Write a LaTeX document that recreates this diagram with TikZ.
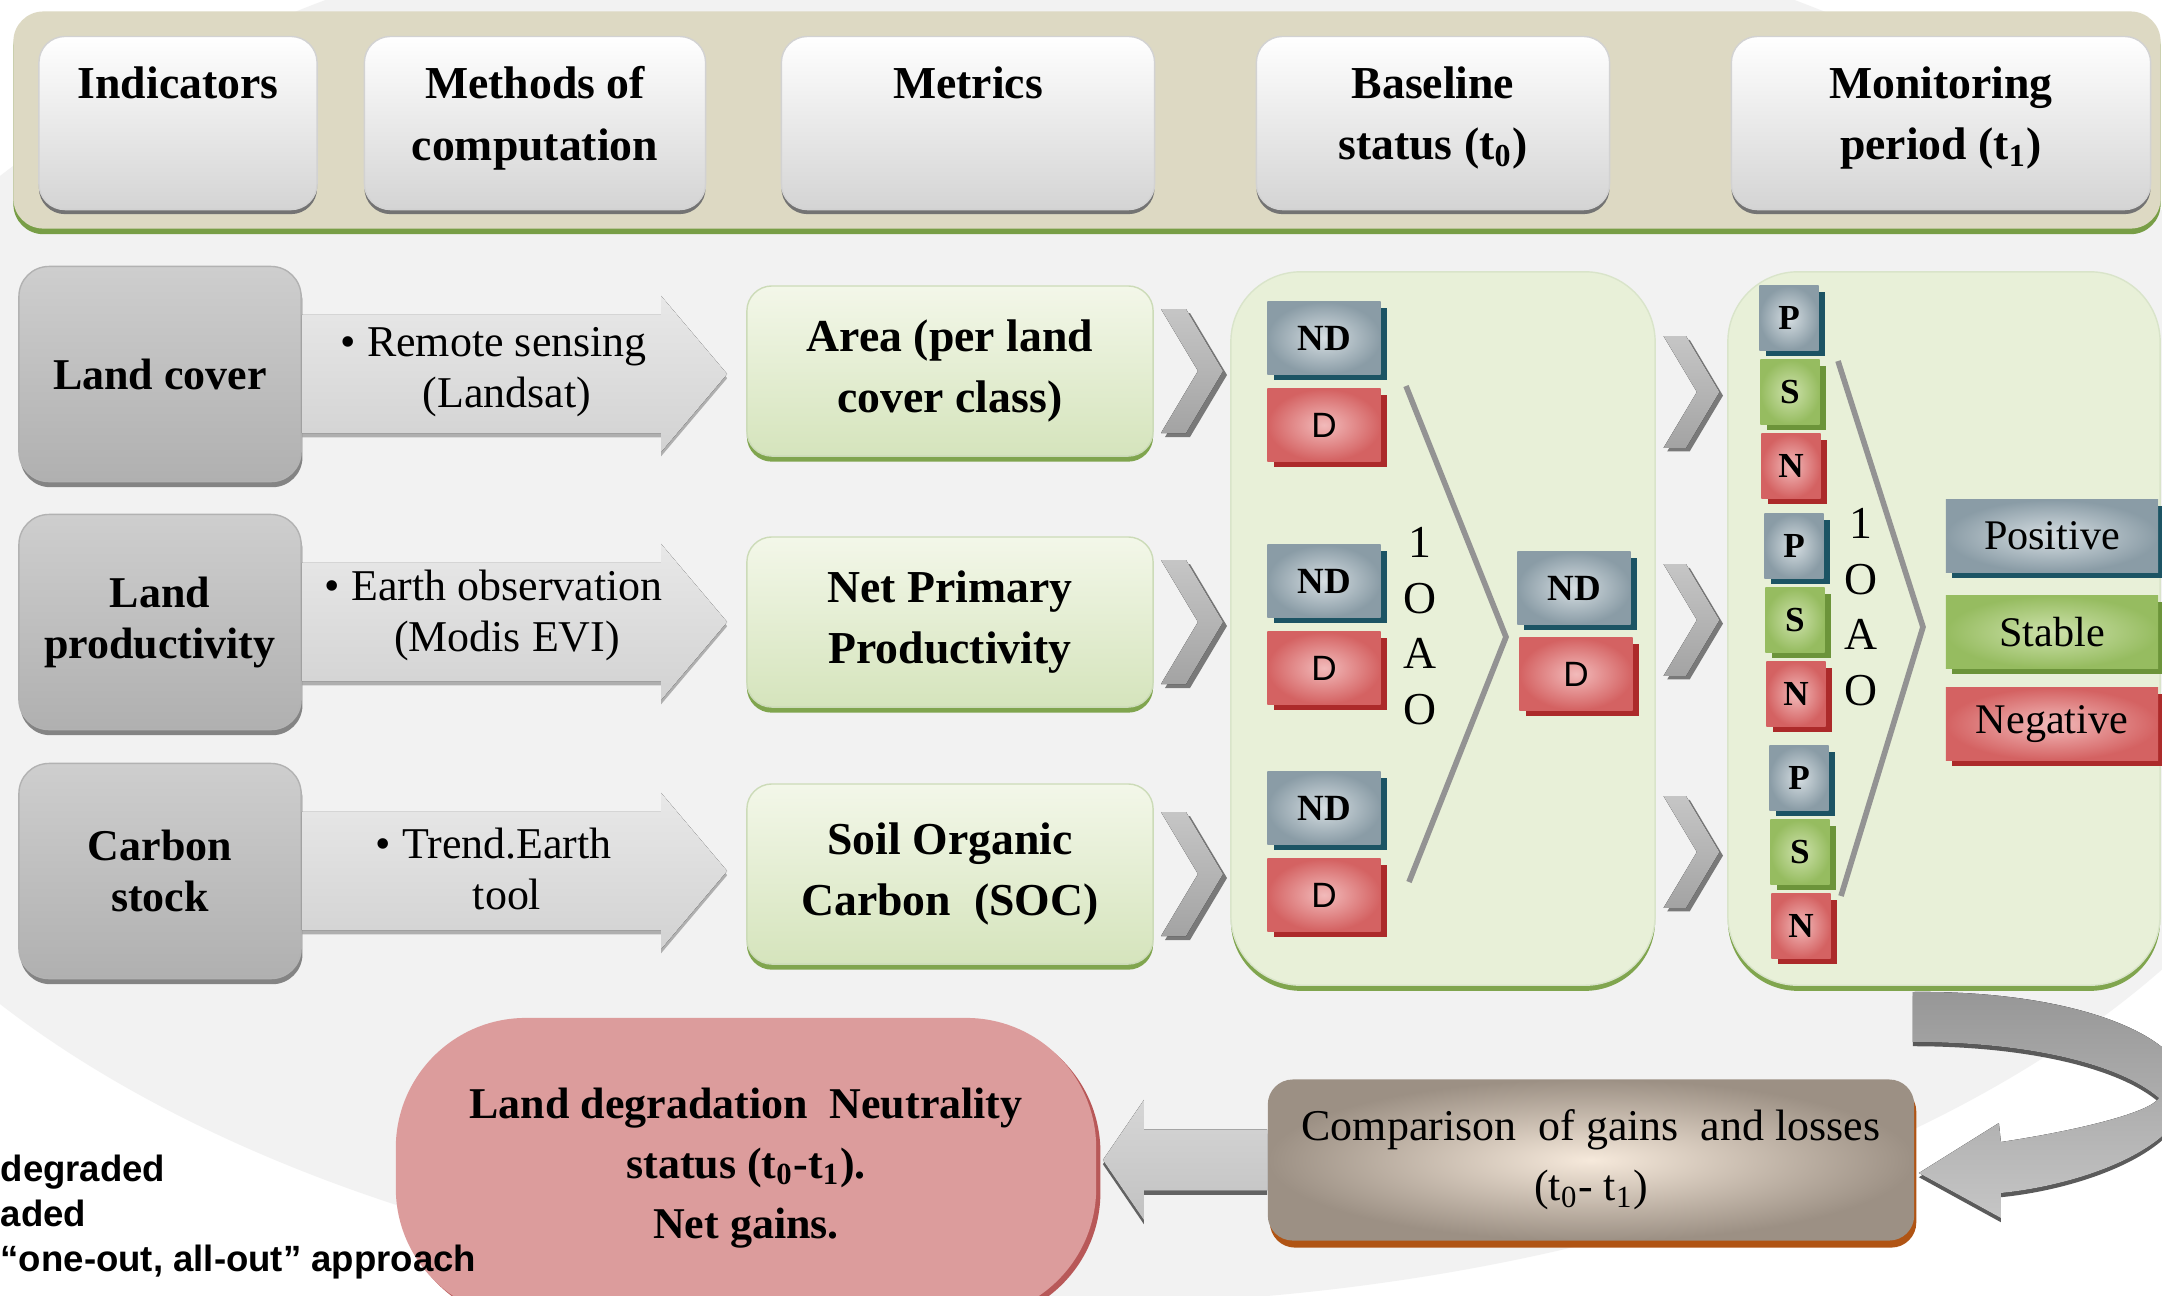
\documentclass[tikz,border=0pt]{standalone}
\usepackage{fontspec}
\setmainfont{Liberation Serif}
\newfontfamily\arialfont{Liberation Sans}
\usetikzlibrary{calc,shadows}

\definecolor{bggrey}{RGB}{242,242,242}
\definecolor{stripbeige}{RGB}{221,217,195}
\definecolor{stripgreen}{RGB}{120,158,70}
\definecolor{hdrlow}{RGB}{212,212,212}
\definecolor{hdrshadow}{RGB}{115,115,115}
\definecolor{indtop}{RGB}{206,206,206}
\definecolor{indfill}{RGB}{176,176,176}
\definecolor{indshadow}{RGB}{105,105,105}
\definecolor{arrlight}{RGB}{232,232,232}
\definecolor{arrdark}{RGB}{210,210,210}
\definecolor{mettop}{RGB}{243,247,233}
\definecolor{metlow}{RGB}{213,228,188}
\definecolor{metedge}{RGB}{128,165,78}
\definecolor{panelfill}{RGB}{232,240,216}
\definecolor{ndin}{RGB}{214,222,226}
\definecolor{ndout}{RGB}{138,156,166}
\definecolor{ndshadow}{RGB}{28,84,100}
\definecolor{din}{RGB}{242,186,186}
\definecolor{dout}{RGB}{212,98,98}
\definecolor{dshadow}{RGB}{172,42,42}
\definecolor{sin}{RGB}{206,226,172}
\definecolor{sout}{RGB}{150,188,96}
\definecolor{sshadow}{RGB}{108,148,58}
\definecolor{cmpin}{RGB}{246,233,219}
\definecolor{cmpout}{RGB}{156,144,132}
\definecolor{cmpedge}{RGB}{176,84,20}
\definecolor{ldnfill}{RGB}{220,156,156}
\definecolor{ldnedge}{RGB}{184,88,88}

\tikzset{
  strip/.style={rounded corners=0.3cm, fill=stripbeige, minimum width=21.46cm, minimum height=2.17cm,
    drop shadow={shadow xshift=0pt, shadow yshift=-1.6pt, fill=stripgreen, opacity=1}},
  hdrbox/.style={rounded corners=0.26cm, top color=white, bottom color=hdrlow, draw=gray!35,
    minimum height=1.73cm, drop shadow={shadow xshift=0pt, shadow yshift=-1.3pt, fill=hdrshadow, opacity=1}},
  hdrtext/.style={anchor=north, inner sep=0pt, yshift=-0.3cm, align=center,
    font=\bfseries\fontsize{13}{17.5}\selectfont},
  indbox/.style={rounded corners=0.3cm, top color=indtop, bottom color=indfill, draw=gray!60,
    minimum width=2.82cm, minimum height=2.15cm, align=center,
    font=\bfseries\fontsize{12.5}{14.5}\selectfont,
    drop shadow={shadow xshift=0.4pt, shadow yshift=-1.6pt, fill=indshadow, opacity=0.8}},
  blockarrow/.style={top color=arrlight, bottom color=arrdark,
    drop shadow={shadow xshift=0pt, shadow yshift=-1.2pt, fill=gray!75, opacity=0.8}},
  arrtext/.style={align=center, inner sep=0pt, font=\fontsize{12.5}{14.5}\selectfont},
  metbox/.style={rounded corners=0.25cm, top color=mettop, bottom color=metlow, draw=metedge!40,
    minimum width=4.06cm, minimum height=1.7cm, align=center,
    font=\bfseries\fontsize{13}{17.5}\selectfont,
    drop shadow={shadow xshift=0pt, shadow yshift=-1.6pt, fill=metedge, opacity=1}},
  panel/.style={rounded corners=0.7cm, fill=panelfill, draw=metedge!30, minimum height=7.13cm,
    drop shadow={shadow xshift=0pt, shadow yshift=-1.6pt, fill=metedge, opacity=1}},
  tile/.style={inner sep=0pt, drop shadow={shadow xshift=1.8pt, shadow yshift=-1.8pt, fill=#1, opacity=1}},
  bluetile/.style={tile=ndshadow, inner color=ndin, outer color=ndout},
  redtile/.style={tile=dshadow, inner color=din, outer color=dout},
  greentile/.style={tile=sshadow, inner color=sin, outer color=sout},
  ndsize/.style={minimum width=1.13cm, minimum height=0.72cm},
  ndfont/.style={font=\bfseries\fontsize{10.5}{12}\selectfont},
  dfont/.style={font=\arialfont\fontsize{10}{12}\selectfont},
  letter/.style={minimum width=0.59cm, minimum height=0.64cm, font=\bfseries\fontsize{10}{12}\selectfont},
  trend/.style={minimum width=2.12cm, minimum height=0.72cm, font=\fontsize{12}{14}\selectfont},
  ooao/.style={align=center, inner sep=0pt, font=\fontsize{13}{15.8}\selectfont},
  bigchev/.style={draw=gray!85, line width=1.6pt, line cap=butt, line join=miter},
  chev/.pic={
    \fill[gray!55!black, opacity=0.7] (-27,-58) -- (-2,-58) -- (35,4) -- (-2,66) -- (-27,66) -- (10,4) -- cycle;
    \fill[top color=gray!45, bottom color=gray!72] (-31,-62) -- (-6,-62) -- (31,0) -- (-6,62)
      -- (-31,62) -- (6,0) -- cycle;
  },
  ldnbox/.style={rounded corners=1.3cm, fill=ldnfill, minimum width=7cm, minimum height=3cm, align=center,
    font=\bfseries\fontsize{12.5}{17}\selectfont,
    drop shadow={shadow xshift=1.2pt, shadow yshift=-1.2pt, fill=ldnedge, opacity=1}},
  cmpbox/.style={rounded corners=0.25cm, inner color=cmpin, outer color=cmpout,
    minimum width=6.46cm, minimum height=1.61cm, align=center, font=\fontsize{12.5}{17}\selectfont,
    drop shadow={shadow xshift=0.6pt, shadow yshift=-2pt, fill=cmpedge, opacity=1}},
  leftarr/.style={top color=gray!32, bottom color=gray!48,
    drop shadow={shadow xshift=0pt, shadow yshift=-1.2pt, fill=gray!50!black, opacity=0.8}},
  curvarr/.style={top color=gray!82, bottom color=gray!45,
    drop shadow={shadow xshift=0pt, shadow yshift=-1.2pt, fill=gray!40!black, opacity=0.8}},
  legend/.style={align=left, inner sep=0pt, anchor=west,
    font=\arialfont\bfseries\fontsize{10.4}{12.9}\selectfont}
}

\begin{document}
\begin{tikzpicture}[x=0.01cm, y=-0.01cm, line join=round, line cap=round]
  \useasboundingbox (0,0) rectangle (2162,1296);
  \clip (0,0) rectangle (2162,1296);
  \fill[white] (0,0) rectangle (2162,1296);
  \fill[bggrey] (1060,590) ellipse [x radius=1300, y radius=715];

  % column headers
  \node[strip] (strip) at (1087,120) {};
  \node[hdrbox, minimum width=2.78cm, label={[hdrtext]north:Indicators}] (hInd) at (178,123) {};
  \node[hdrbox, minimum width=3.41cm, label={[hdrtext]north:Methods of\\computation}] (hMeth) at (535,123) {};
  \node[hdrbox, minimum width=3.73cm, label={[hdrtext]north:Metrics}] (hMet) at (968,123) {};
  \node[hdrbox, minimum width=3.53cm, label={[hdrtext]north:Baseline\\status (t\textsubscript{0})}] (hBase) at (1433,123) {};
  \node[hdrbox, minimum width=4.19cm, label={[hdrtext]north:Monitoring\\period (t\textsubscript{1})}] (hMon) at (1941,123) {};

  % indicators and metrics
  \node[indbox] (lc) at (160,374) {Land cover};
  \node[indbox] (lp) at (160,622) {Land\\productivity};
  \node[indbox] (cs) at (160,871) {Carbon\\stock};
  \node[metbox] (area) at (950,371) {Area (per land\\cover class)};
  \node[metbox] (npp) at (950,622) {Net Primary\\Productivity};
  \node[metbox, minimum height=1.8cm] (soc) at (950,874) {Soil Organic\\Carbon\ \ (SOC)};

  \foreach \a/\b in {lc/area, lp/npp, cs/soc}
    \fill[blockarrow] let \p1=(\a.east), \p2=(\b.west) in
      (\x1,\y1+0.59cm) -- (\x2-0.85cm,\y1+0.59cm) -- (\x2-0.85cm,\y1+0.78cm) -- (\x2-0.19cm,\y1)
      -- (\x2-0.85cm,\y1-0.78cm) -- (\x2-0.85cm,\y1-0.59cm) -- (\x1,\y1-0.59cm) -- cycle;
  \node[arrtext] (rs) at (507,372) {\llap{\textbullet\ }Remote sensing\\(Landsat)};
  \node[arrtext] (eo) at (507,615) {\llap{\textbullet\ }Earth observation\\(Modis EVI)};
  \node[arrtext] (te) at (507,869) {\llap{\textbullet\ }Trend.Earth\\tool};

  % baseline and monitoring panels
  \node[panel, minimum width=4.24cm] (bpanel) at (1443,628.5) {};
  \node[panel, minimum width=4.32cm] (mpanel) at (1944,628.5) {};
  \foreach \m in {area,npp,soc}
    \pic at ($(\m.east)!.5!(bpanel.west |- \m.east)$) {chev};

  \foreach \i/\yy in {1/338, 2/581, 3/808}{
    \node[bluetile, ndsize, ndfont] (nd\i) at (1324,\yy) {ND};
    \node[redtile, ndsize, dfont] (d\i) at (1324,\yy+87) {D};
  }
  \node[bluetile, ndsize, ndfont] (ndr) at (1574,588) {ND};
  \node[redtile, ndsize, dfont] (dr) at (1576,674) {D};
  \node[ooao] (oa1) at (1420,626) {1\\O\\A\\O};
  \draw[bigchev] (1406,386) -- (1506,637) -- (1409,882);

  \foreach \g/\xx/\yy in {1/1789/318, 2/1794/546, 3/1799/778}{
    \node[bluetile, letter] (p\g) at (\xx,\yy) {P};
    \node[greentile, letter] (s\g) at (\xx+1,\yy+74) {S};
    \node[redtile, letter] (n\g) at (\xx+2,\yy+148) {N};
  }
  \foreach \s in {s1,s2,s3}
    \pic[scale=0.9] at ($(bpanel.east |- \s)!.5!(mpanel.west |- \s)$) {chev};
  \node[ooao] (oa2) at (1861,607) {1\\O\\A\\O};
  \draw[bigchev] (1838,361) -- (1923,627) -- (1841,896);
  \node[bluetile, trend] (pos) at (2052,536) {Positive};
  \node[greentile, trend] (stab) at (2052,632) {Stable};
  \node[redtile, trend] (neg) at (2052,724) {Negative};

  % comparison and result
  \node[ldnbox] (ldn) at (746,1168) {Land degradation\ \ Neutrality\\status (t\textsubscript{0}-t\textsubscript{1}).\\Net gains.};
  \node[cmpbox] (cmp) at (1591,1160) {Comparison\ \ of gains\ \ and losses\\(t\textsubscript{0}- t\textsubscript{1})};
  \fill[leftarr] let \p1=(cmp.west), \p2=($(ldn.east |- cmp.west)+(6,0)$) in
    (\x1,\y1+0.305cm) -- (\x2+0.41cm,\y1+0.305cm) -- (\x2+0.41cm,\y1+0.6cm) -- (\x2,\y1)
    -- (\x2+0.41cm,\y1-0.6cm) -- (\x2+0.41cm,\y1-0.305cm) -- (\x1,\y1-0.305cm) -- cycle;
  \begin{scope}[shift={(cmp.east)}]
    \fill[curvarr] (-2,-168) .. controls (166,-170) and (286,-120) .. (271,-60)
      .. controls (261,-10) and (166,25) .. (86,33) -- (86,58) -- (4,13) -- (84,-37) -- (86,-18)
      .. controls (166,-30) and (236,-48) .. (244,-62)
      .. controls (206,-95) and (116,-118) .. (-2,-118) -- cycle;
  \end{scope}

  \node[legend] (leg) at (0,1217) {degraded\\aded\\“one-out, all-out” approach};
\end{tikzpicture}
\end{document}
